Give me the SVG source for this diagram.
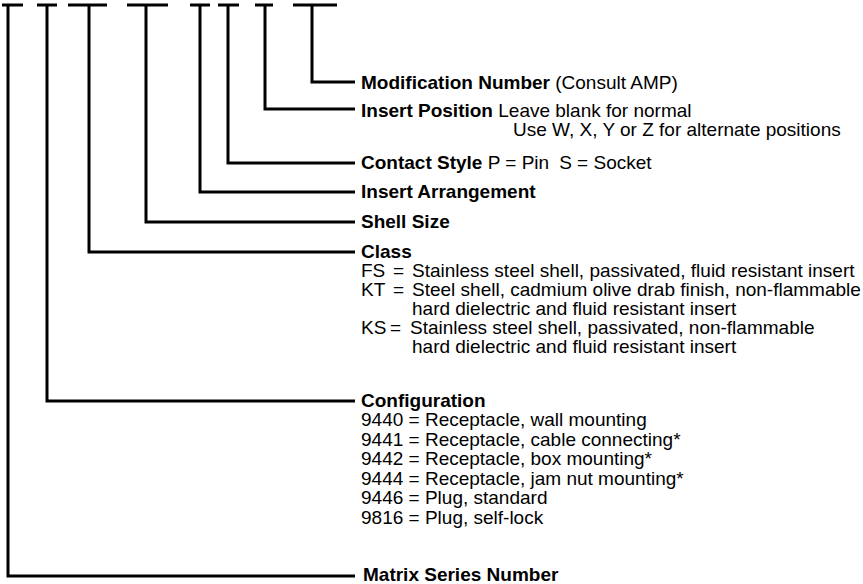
<svg xmlns="http://www.w3.org/2000/svg" width="863" height="584" viewBox="0 0 863 584">
<style>
.ln{fill:none;stroke:#000;stroke-width:3;stroke-linecap:butt;stroke-linejoin:miter}
text{font-family:"Liberation Sans",Arial,Helvetica,sans-serif;font-size:19px;fill:#000}
.b{font-weight:bold}
</style>
<rect width="863" height="584" fill="#fff"/>
<g id="connectors">
<path class="ln" d="M2 5H23M8 5V576H355"/>
<path class="ln" d="M37 5H57M47 5V401H355"/>
<path class="ln" d="M68 5H107M89 5V252H355"/>
<path class="ln" d="M127 5H168M146 5V222H355"/>
<path class="ln" d="M190 5H210M200 5V192H355"/>
<path class="ln" d="M218 5H239M228 5V163H355"/>
<path class="ln" d="M255 5H273M265 5V109H355"/>
<path class="ln" d="M293 5H337M312 5V82H355"/>
</g>
<g id="modification-number"><text x="361" y="89"><tspan class="b">Modification Number</tspan> (Consult AMP)</text></g>
<g id="insert-position"><text x="361" y="117"><tspan class="b">Insert Position</tspan> Leave blank for normal</text>
<text x="513" y="136">Use W, X, Y or Z for alternate positions</text></g>
<g id="contact-style"><text x="361" y="169"><tspan class="b">Contact Style</tspan> P = Pin<tspan dx="10">S = Socket</tspan></text></g>
<g id="insert-arrangement"><text class="b" x="361" y="198">Insert Arrangement</text></g>
<g id="shell-size"><text class="b" x="361" y="228">Shell Size</text></g>
<g id="class"><text class="b" x="361" y="258">Class</text>
<text x="361" y="277">FS<tspan x="393">=</tspan><tspan x="412">Stainless steel shell, passivated, fluid resistant insert</tspan></text>
<text x="361" y="296">KT<tspan x="393">=</tspan><tspan x="412">Steel shell, cadmium olive drab finish, non-flammable</tspan></text>
<text x="412" y="315">hard dielectric and fluid resistant insert</text>
<text x="361" y="334">KS<tspan x="390">=</tspan><tspan x="410">Stainless steel shell, passivated, non-flammable</tspan></text>
<text x="412" y="353">hard dielectric and fluid resistant insert</text></g>
<g id="configuration"><text class="b" x="361" y="407">Configuration</text>
<text x="361" y="426">9440 = Receptacle, wall mounting</text>
<text x="361" y="446">9441 = Receptacle, cable connecting*</text>
<text x="361" y="465">9442 = Receptacle, box mounting*</text>
<text x="361" y="485">9444 = Receptacle, jam nut mounting*</text>
<text x="361" y="504">9446 = Plug, standard</text>
<text x="361" y="524">9816 = Plug, self-lock</text></g>
<g id="matrix-series-number"><text class="b" x="363" y="581">Matrix Series Number</text></g>
</svg>
